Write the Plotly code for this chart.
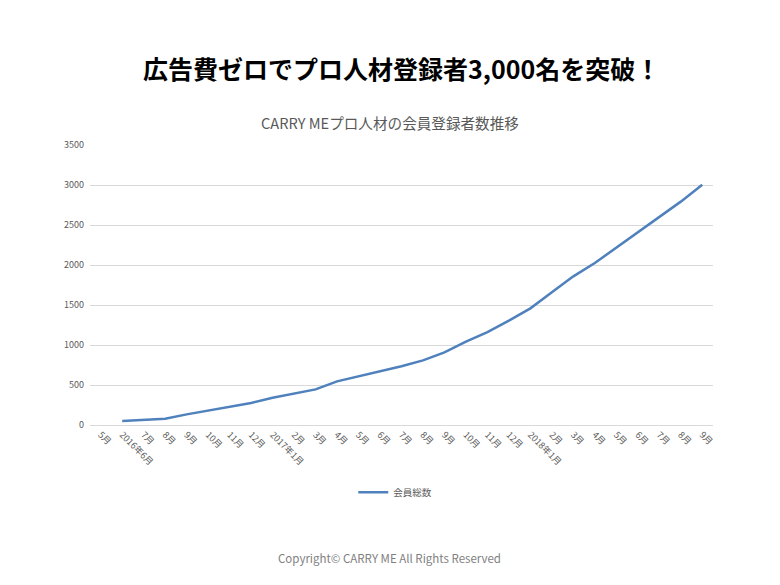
import plotly.graph_objects as go

# 月ラベル (先頭の5月はデータなし)
months = ["5月", "2016年6月", "7月", "8月", "9月", "10月", "11月", "12月",
          "2017年1月", "2月", "3月", "4月", "5月", "6月", "7月", "8月", "9月",
          "10月", "11月", "12月", "2018年1月", "2月", "3月", "4月", "5月",
          "6月", "7月", "8月", "9月"]
members = [None, 50, 62, 79, 133, 183, 233, 275, 341, 391, 445, 545, 608,
           679, 735, 808, 908, 1042, 1162, 1304, 1458, 1658, 1858, 2025,
           2217, 2408, 2592, 2792, 3004]
y_ticks = [0, 500, 1000, 1500, 2000, 2500, 3000, 3500]

jp_font = "Noto Sans CJK JP, Noto Sans, sans-serif"
gray = "#595959"

x_idx = list(range(len(months)))

fig = go.Figure()
fig.add_trace(go.Scatter(
    x=x_idx,
    y=members,
    mode="lines",
    name="会員総数",
    line=dict(color="#4F81BD", width=2.5),
))

# ページ本体の余白(8px)を見込んだサイズ
fig.update_layout(
    width=764,
    height=569,
    paper_bgcolor="white",
    plot_bgcolor="white",
    margin=dict(l=82, r=59, t=137, b=152),
    font=dict(family=jp_font, color=gray, size=9),
    showlegend=True,
    legend=dict(
        orientation="h",
        x=0.49, xanchor="center",
        y=-0.24, yanchor="middle",
        itemwidth=30,
        font=dict(size=9.5, color=gray),
    ),
    xaxis=dict(
        range=[-0.5, len(months) - 0.5],
        tickmode="array",
        tickvals=x_idx,
        ticktext=months,
        tickangle=45,
        showgrid=False,
        showline=True,
        linecolor="#D9D9D9",
        ticks="",
        zeroline=False,
        tickfont=dict(size=9, color=gray),
    ),
    yaxis=dict(
        range=[0, 3500],
        tickmode="array",
        tickvals=y_ticks,
        showgrid=True,
        gridcolor="#D9D9D9",
        zeroline=False,
        showline=False,
        ticks="",
        ticklabelstandoff=5,
        tickfont=dict(size=9, color=gray),
    ),
)

fig.add_annotation(
    text="<b>広告費ゼロでプロ人材登録者3,000名を突破！</b>",
    xref="paper", yref="paper", x=0.5, y=1.275,
    xanchor="center", yanchor="middle", showarrow=False,
    font=dict(size=25, color="black", family=jp_font),
)
fig.add_annotation(
    text="CARRY MEプロ人材の会員登録者数推移",
    xref="paper", yref="paper", x=0.481, y=1.079,
    xanchor="center", yanchor="middle", showarrow=False,
    font=dict(size=14.6, color=gray, family=jp_font),
)
fig.add_annotation(
    text="Copyright© CARRY ME All Rights Reserved",
    xref="paper", yref="paper", x=0.481, y=-0.475,
    xanchor="center", yanchor="middle", showarrow=False,
    font=dict(size=11.5, color="#7F7F7F", family=jp_font),
)

fig.write_html("out.html")
